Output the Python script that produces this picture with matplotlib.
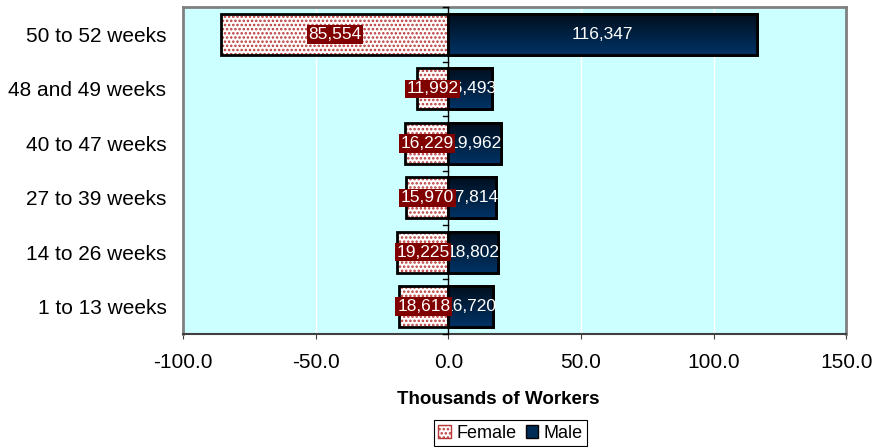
import matplotlib.pyplot as plt
import numpy as np
from matplotlib.patches import Patch
from matplotlib.colors import LinearSegmentedColormap

# data (thousands of workers)
categories = ["1 to 13 weeks", "14 to 26 weeks", "27 to 39 weeks",
              "40 to 47 weeks", "48 and 49 weeks", "50 to 52 weeks"]
female = [18618, 19225, 15970, 16229, 11992, 85554]
male = [16720, 18802, 17814, 19962, 16493, 116347]
xticks = [-100, -50, 0, 50, 100, 150]

plt.rcParams['font.family'] = ['Liberation Sans', 'DejaVu Sans']
plt.rcParams['hatch.linewidth'] = 1.2

fig = plt.figure(figsize=(8.89, 4.47), dpi=100)
ax = fig.add_axes([0.206, 0.253, 0.746, 0.731])
ax.set_facecolor('#CCFFFF')

y = np.arange(len(categories))
f_vals = -np.array(female) / 1000.0
m_vals = np.array(male) / 1000.0
h = 0.75

# female bars: dotted fill, then black outline on top
ax.barh(y, f_vals, height=h, color='white', edgecolor='#B83838', hatch='....',
        linewidth=0, zorder=2)
ax.barh(y, f_vals, height=h, fill=False, edgecolor='black', linewidth=2, zorder=3)

# male bars with a navy gradient
mbars = ax.barh(y, m_vals, height=h, color='#002B57', edgecolor='black',
                linewidth=2, zorder=3)
grad = np.linspace(0, 1, 100).reshape(-1, 1)
cmap = LinearSegmentedColormap.from_list('navy', ['#003366', '#000F1E'])
for b in mbars:
    x0, y0 = b.get_x(), b.get_y()
    w, hh = b.get_width(), b.get_height()
    im = ax.imshow(grad, cmap=cmap, aspect='auto', origin='upper',
                   extent=[x0, x0 + w, y0 + hh, y0], zorder=3.5)
    im.set_clip_path(b)
    ax.add_patch(plt.Rectangle((x0, y0), w, hh, fill=False,
                               edgecolor='black', linewidth=2, zorder=4))

# value labels
for i in range(len(categories)):
    ax.text(f_vals[i] / 2, y[i], f"{female[i]:,}", ha='center', va='center',
            color='white', fontsize=12.5, zorder=6,
            bbox=dict(facecolor='#800000', edgecolor='none', pad=1.2))
    ax.text(m_vals[i] / 2, y[i], f"{male[i]:,}", ha='center', va='center',
            color='white', fontsize=12.5, zorder=5)

# axis line at zero with small ticks
ax.axvline(0, color='black', linewidth=1, zorder=4.5)
for yb in np.arange(-0.5, len(categories), 1.0):
    ax.plot([-2.2, 0], [yb, yb], color='black', linewidth=1, zorder=4.5,
            clip_on=False)

ax.set_xlim(-100, 150)
ax.set_ylim(-0.5, len(categories) - 0.5)
ax.set_xticks(xticks)
ax.set_xticklabels([f"{v:.1f}" for v in xticks], fontsize=15)
ax.set_yticks(y)
ax.set_yticklabels(categories, fontsize=15)
ax.tick_params(axis='y', length=0, pad=12)
ax.tick_params(axis='x', length=3.5, pad=10, color='#404040')
ax.grid(axis='x', color='white', linewidth=1, zorder=1)
ax.set_axisbelow(True)

for s in ['left', 'top', 'right']:
    ax.spines[s].set_color('#808080')
    ax.spines[s].set_linewidth(2)
ax.spines['bottom'].set_color('#404040')
ax.spines['bottom'].set_linewidth(1.5)

ax.set_xlabel("Thousands of Workers", fontsize=13.5, fontweight='bold')
ax.xaxis.set_label_coords((498 - 183) / 663, -(400 - 334) / 327, transform=ax.transAxes)
ax.xaxis.label.set_va('center')

handles = [Patch(facecolor='white', edgecolor='#B83838', hatch='....'),
           Patch(facecolor='#002B57', edgecolor='black')]
leg = fig.legend(handles, ['Female', 'Male'], loc='center', ncol=2,
                 bbox_to_anchor=(510.5 / 889, 1 - 433 / 447), fontsize=13,
                 handlelength=0.7, handleheight=0.7, handletextpad=0.3,
                 columnspacing=0.5, borderpad=0.25, fancybox=False,
                 edgecolor='black', framealpha=1)
leg.get_frame().set_linewidth(0.8)

plt.savefig("out.png", dpi=100)
